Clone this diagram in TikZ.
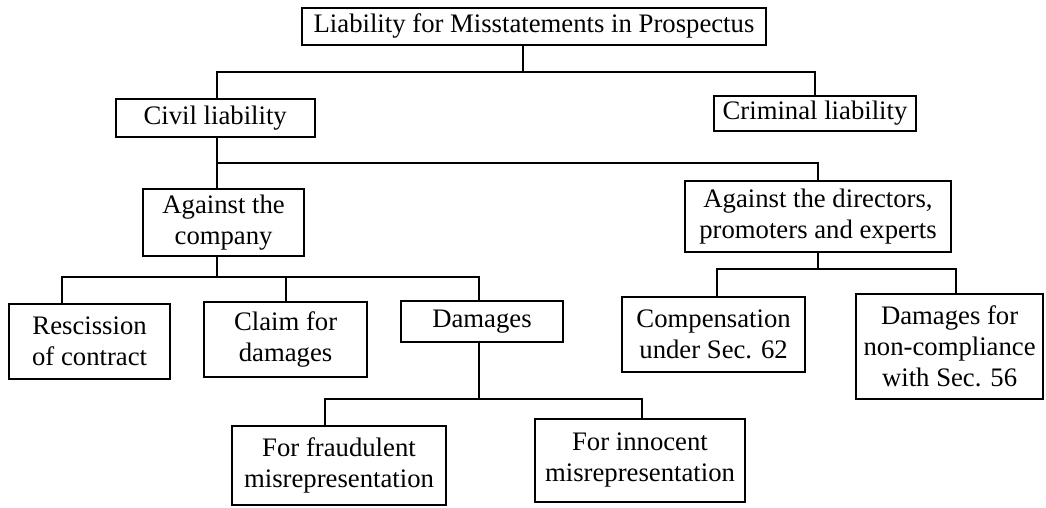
\documentclass[tikz,border=0pt]{standalone}
\usepackage{fontspec}
\setmainfont{Liberation Serif}
\tikzset{
  lbox/.style={draw, line width=1.3pt, align=center, inner sep=1pt,
    font=\fontsize{19}{22}\selectfont},
  link/.style={line width=1.3pt}
}

\begin{document}
\begin{tikzpicture}

\useasboundingbox (0,0) rectangle (26.15,12.7);

% Draw the heading box at the top
\node[lbox, minimum width=11.6cm, minimum height=0.925cm] (head) at (13.35,12.04)
  {Liability for Misstatements in Prospectus};

% Draw the two kinds of liability
\node[lbox, minimum width=4.975cm, minimum height=0.95cm] (civil) at (5.38,9.75) {Civil liability};
\node[lbox, minimum width=5.05cm, minimum height=0.875cm] (criminal) at (20.375,9.86) {Criminal liability};

% Draw who the civil liability lies against
\node[lbox, minimum width=4.025cm, minimum height=1.675cm] (company) at (5.59,7.14) {Against the\\company};
\node[lbox, minimum width=6.65cm, minimum height=1.775cm] (directors) at (20.45,7.29)
  {Against the directors,\\promoters and experts};

% Draw the remedies against the company
\node[lbox, minimum width=4.025cm, minimum height=1.875cm] (rescission) at (2.24,4.16) {Rescission\\of contract};
\node[lbox, minimum width=4.075cm, minimum height=1.875cm] (claim) at (7.14,4.21) {Claim for\\damages};
\node[lbox, minimum width=4.05cm, minimum height=1.025cm] (damages) at (12.05,4.66) {Damages};

% Draw the remedies against the directors, promoters and experts
\node[lbox, minimum width=4.575cm, minimum height=1.875cm] (compensation) at (17.84,4.34) {Compensation\\under Sec. 62};
\node[lbox, minimum width=4.675cm, minimum height=2.625cm] (noncompliance) at (23.74,4.04)
  {Damages for\\non-compliance\\with Sec. 56};

% Draw the two kinds of damages
\node[lbox, minimum width=5.35cm, minimum height=1.975cm] (fraudulent) at (8.475,1.06) {For fraudulent\\misrepresentation};
\node[lbox, minimum width=5.25cm, minimum height=2.075cm] (innocent) at (16.0,1.19) {For innocent\\misrepresentation};

% Branch points of the connecting lines
\coordinate (b1) at (13.075,10.9);
\coordinate (b2) at (5.425,8.625);
\coordinate (b3l) at (1.55,5.775);
\coordinate (b3r) at (11.975,5.775);
\coordinate (b4l) at (8.125,2.725);
\coordinate (b4r) at (16.05,2.725);
\coordinate (b5l) at (17.925,5.975);
\coordinate (b5r) at (23.9,5.975);

% Connect the heading to the two liabilities
\draw[link] (b1 |- head.south) -- (b1);
\draw[link] (civil.north -| b2) |- (b1) -| (criminal.north);

% Connect civil liability to its two branches
\draw[link] (civil.south -| b2) -- (company.north -| b2);
\draw[link] (b2) -| (directors.north);

% Connect the company branch to its remedies
\draw[link] (company.south -| b2) -- (b2 |- b3l);
\draw[link] (b3l |- rescission.north) -- (b3l) -- (b3r) -- (b3r |- damages.north);
\draw[link] (claim.north) -- (claim.north |- b3l);

% Connect damages to fraudulent and innocent
\draw[link] (b3r |- damages.south) -- (b3r |- b4l);
\draw[link] (b4l |- fraudulent.north) -- (b4l) -- (b4r) -- (b4r |- innocent.north);

% Connect the directors branch to its remedies
\draw[link] (directors.south) -- (directors.south |- b5l);
\draw[link] (b5l |- compensation.north) -- (b5l) -- (b5r) -- (b5r |- noncompliance.north);

\end{tikzpicture}
\end{document}
